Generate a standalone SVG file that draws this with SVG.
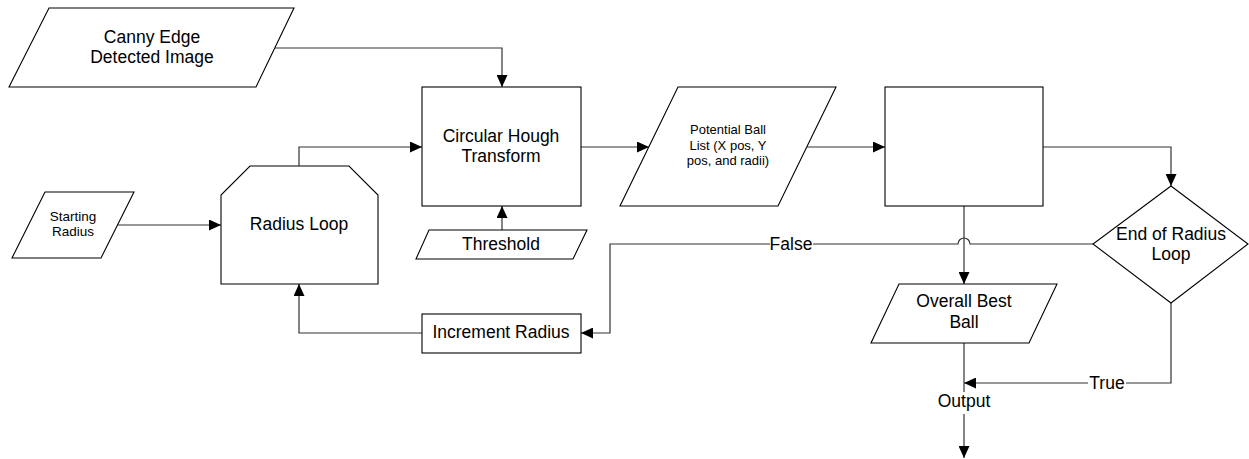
<svg xmlns="http://www.w3.org/2000/svg" width="1249" height="459" viewBox="0 0 1249 459">
  <defs>
    <marker id="arr" viewBox="0 0 12 11" refX="12" refY="5.5" markerWidth="12" markerHeight="11" markerUnits="userSpaceOnUse" orient="auto">
      <path d="M0,0 L12,5.5 L0,11 z" fill="#000"/>
    </marker>
    <style>
      .shape { fill: #fff; stroke: #000; stroke-width: 1.1; }
      .conn { fill: none; stroke: #333; stroke-width: 1.2; }
      .t { font-family: "Liberation Sans", Arial, sans-serif; font-size: 17.5px; fill: #000; text-anchor: middle; }
      .ts { font-family: "Liberation Sans", Arial, sans-serif; font-size: 13px; fill: #000; text-anchor: middle; }
      .bg { fill: #fff; stroke: none; }
    </style>
  </defs>
  <rect width="1249" height="459" fill="#fff"/>

  <!-- connectors -->
  <g id="connectors">
    <path class="conn" d="M275,48 H502 V87" marker-end="url(#arr)"/>
    <path class="conn" d="M299,166 V147 H422" marker-end="url(#arr)"/>
    <path class="conn" d="M118,225 H221" marker-end="url(#arr)"/>
    <path class="conn" d="M502,230 V206" marker-end="url(#arr)"/>
    <path class="conn" d="M581,147 H649" marker-end="url(#arr)"/>
    <path class="conn" d="M807,147 H885" marker-end="url(#arr)"/>
    <path class="conn" d="M1043,147 H1171 V186" marker-end="url(#arr)"/>
    <path class="conn" d="M964,206 V284" marker-end="url(#arr)"/>
    <path class="conn" d="M1093,244 H970 A6,6 0 0 0 958,244 H610 V333 H581" marker-end="url(#arr)"/>
    <path class="conn" d="M422,333 H299 V284" marker-end="url(#arr)"/>
    <path class="conn" d="M1171,303 V383 H964" marker-end="url(#arr)"/>
    <path class="conn" d="M964,343 V458" marker-end="url(#arr)"/>
    <!-- connector labels -->
    <rect class="bg" x="770" y="235" width="43" height="18"/>
    <text class="t" x="791" y="250">False</text>
    <rect class="bg" x="1088" y="374" width="38" height="18"/>
    <text class="t" x="1107" y="389">True</text>
    <rect class="bg" x="936" y="392" width="56" height="22"/>
    <text class="t" x="964" y="407">Output</text>
  </g>

  <g id="canny">
    <polygon class="shape" points="49,8 294,8 256,87 9,87"/>
    <text class="t" x="152" y="43">Canny Edge</text>
    <text class="t" x="152" y="63">Detected Image</text>
  </g>

  <g id="starting-radius">
    <polygon class="shape" points="45,192 134,192 101,258 12,258"/>
    <text class="ts" x="73" y="221" style="font-size:13.5px">Starting</text>
    <text class="ts" x="73" y="236" style="font-size:13.5px">Radius</text>
  </g>

  <g id="radius-loop">
    <polygon class="shape" points="250,166 349,166 378,195 378,284 221,284 221,195"/>
    <text class="t" x="299" y="230">Radius Loop</text>
  </g>

  <g id="hough">
    <rect class="shape" x="422" y="87" width="159" height="119"/>
    <text class="t" x="501" y="142">Circular Hough</text>
    <text class="t" x="501" y="162">Transform</text>
  </g>

  <g id="threshold">
    <polygon class="shape" points="429,230 587,230 573,259 416,259"/>
    <text class="t" x="501" y="250">Threshold</text>
  </g>

  <g id="ball-list">
    <polygon class="shape" points="678,87 836,87 778,206 620,206"/>
    <text class="ts" x="728" y="134">Potential Ball</text>
    <text class="ts" x="728" y="149.5">List (X pos, Y</text>
    <text class="ts" x="728" y="165">pos, and radii)</text>
  </g>

  <g id="selector">
    <rect class="shape" x="885" y="87" width="158" height="119"/>
  </g>

  <g id="end-loop">
    <polygon class="shape" points="1171,186 1248,244 1171,303 1093,244"/>
    <text class="t" x="1171" y="240">End of Radius</text>
    <text class="t" x="1171" y="260">Loop</text>
  </g>

  <g id="increment">
    <rect class="shape" x="422" y="314" width="159" height="39"/>
    <text class="t" x="501" y="338">Increment Radius</text>
  </g>

  <g id="best-ball">
    <polygon class="shape" points="899,284 1057,284 1029,343 871,343"/>
    <text class="t" x="964" y="307">Overall Best</text>
    <text class="t" x="964" y="328">Ball</text>
  </g>
</svg>
